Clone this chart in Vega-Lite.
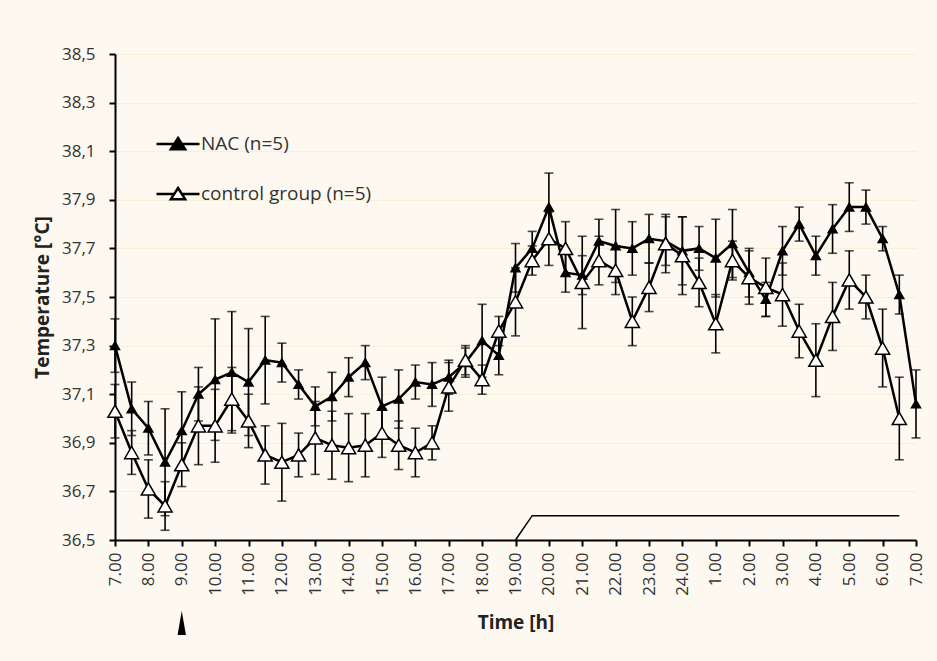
{
  "$schema": "https://vega.github.io/schema/vega-lite/v6.json",
  "width": 801,
  "height": 486,
  "autosize": {"type": "none"},
  "padding": {"left": 115, "top": 54, "right": 21, "bottom": 121},
  "background": "#fdf9f1",
  "config": {
    "view": {"stroke": null},
    "font": "Open Sans",
    "axis": {
      "domainColor": "black", "domainWidth": 2,
      "tickColor": "black", "tickWidth": 2, "tickSize": 6,
      "labelFont": "Open Sans", "labelFontSize": 17, "labelColor": "#333333",
      "labelBound": false, "labelFlush": false, "labelOverlap": false,
      "titleFont": "Open Sans", "titleFontSize": 19, "titleFontWeight": "bold", "titleColor": "#222222"
    },
    "axisX": {"labelOverlap": false, "labelAngle": 270, "labelPadding": 6, "titlePadding": 18, "grid": false},
    "axisY": {"labelPadding": 14, "grid": true, "gridColor": "#f7f0d6", "gridWidth": 1, "titlePadding": 9}
  },
  "datasets": {
    "temps": [
      {"group":"NAC (n=5)","t":0,"temp":37.30,"err":0.11},
      {"group":"NAC (n=5)","t":0.5,"temp":37.04,"err":0.11},
      {"group":"NAC (n=5)","t":1,"temp":36.96,"err":0.11},
      {"group":"NAC (n=5)","t":1.5,"temp":36.82,"err":0.22},
      {"group":"NAC (n=5)","t":2,"temp":36.95,"err":0.16},
      {"group":"NAC (n=5)","t":2.5,"temp":37.10,"err":0.11},
      {"group":"NAC (n=5)","t":3,"temp":37.16,"err":0.25},
      {"group":"NAC (n=5)","t":3.5,"temp":37.19,"err":0.25},
      {"group":"NAC (n=5)","t":4,"temp":37.15,"err":0.22},
      {"group":"NAC (n=5)","t":4.5,"temp":37.24,"err":0.18},
      {"group":"NAC (n=5)","t":5,"temp":37.23,"err":0.08},
      {"group":"NAC (n=5)","t":5.5,"temp":37.14,"err":0.06},
      {"group":"NAC (n=5)","t":6,"temp":37.05,"err":0.08},
      {"group":"NAC (n=5)","t":6.5,"temp":37.09,"err":0.10},
      {"group":"NAC (n=5)","t":7,"temp":37.17,"err":0.08},
      {"group":"NAC (n=5)","t":7.5,"temp":37.23,"err":0.07},
      {"group":"NAC (n=5)","t":8,"temp":37.05,"err":0.12},
      {"group":"NAC (n=5)","t":8.5,"temp":37.08,"err":0.12},
      {"group":"NAC (n=5)","t":9,"temp":37.15,"err":0.07},
      {"group":"NAC (n=5)","t":9.5,"temp":37.14,"err":0.09},
      {"group":"NAC (n=5)","t":10,"temp":37.17,"err":0.07},
      {"group":"NAC (n=5)","t":10.5,"temp":37.23,"err":0.06},
      {"group":"NAC (n=5)","t":11,"temp":37.32,"err":0.15},
      {"group":"NAC (n=5)","t":11.5,"temp":37.26,"err":0.08},
      {"group":"NAC (n=5)","t":12,"temp":37.62,"err":0.10},
      {"group":"NAC (n=5)","t":12.5,"temp":37.70,"err":0.07},
      {"group":"NAC (n=5)","t":13,"temp":37.87,"err":0.14},
      {"group":"NAC (n=5)","t":13.5,"temp":37.60,"err":0.08},
      {"group":"NAC (n=5)","t":14,"temp":37.59,"err":0.08},
      {"group":"NAC (n=5)","t":14.5,"temp":37.73,"err":0.09},
      {"group":"NAC (n=5)","t":15,"temp":37.71,"err":0.15},
      {"group":"NAC (n=5)","t":15.5,"temp":37.70,"err":0.11},
      {"group":"NAC (n=5)","t":16,"temp":37.74,"err":0.10},
      {"group":"NAC (n=5)","t":16.5,"temp":37.73,"err":0.10},
      {"group":"NAC (n=5)","t":17,"temp":37.69,"err":0.14},
      {"group":"NAC (n=5)","t":17.5,"temp":37.70,"err":0.09},
      {"group":"NAC (n=5)","t":18,"temp":37.66,"err":0.16},
      {"group":"NAC (n=5)","t":18.5,"temp":37.72,"err":0.14},
      {"group":"NAC (n=5)","t":19,"temp":37.60,"err":0.10},
      {"group":"NAC (n=5)","t":19.5,"temp":37.49,"err":0.07},
      {"group":"NAC (n=5)","t":20,"temp":37.69,"err":0.10},
      {"group":"NAC (n=5)","t":20.5,"temp":37.80,"err":0.07},
      {"group":"NAC (n=5)","t":21,"temp":37.67,"err":0.08},
      {"group":"NAC (n=5)","t":21.5,"temp":37.78,"err":0.10},
      {"group":"NAC (n=5)","t":22,"temp":37.87,"err":0.10},
      {"group":"NAC (n=5)","t":22.5,"temp":37.87,"err":0.07},
      {"group":"NAC (n=5)","t":23,"temp":37.74,"err":0.05},
      {"group":"NAC (n=5)","t":23.5,"temp":37.51,"err":0.08},
      {"group":"NAC (n=5)","t":24,"temp":37.06,"err":0.14},
      {"group":"control group (n=5)","t":0,"temp":37.03,"err":0.11},
      {"group":"control group (n=5)","t":0.5,"temp":36.86,"err":0.09},
      {"group":"control group (n=5)","t":1,"temp":36.71,"err":0.12},
      {"group":"control group (n=5)","t":1.5,"temp":36.64,"err":0.10},
      {"group":"control group (n=5)","t":2,"temp":36.81,"err":0.09},
      {"group":"control group (n=5)","t":2.5,"temp":36.97,"err":0.16},
      {"group":"control group (n=5)","t":3,"temp":36.97,"err":0.15},
      {"group":"control group (n=5)","t":3.5,"temp":37.08,"err":0.13},
      {"group":"control group (n=5)","t":4,"temp":36.99,"err":0.11},
      {"group":"control group (n=5)","t":4.5,"temp":36.85,"err":0.12},
      {"group":"control group (n=5)","t":5,"temp":36.82,"err":0.16},
      {"group":"control group (n=5)","t":5.5,"temp":36.85,"err":0.09},
      {"group":"control group (n=5)","t":6,"temp":36.92,"err":0.15},
      {"group":"control group (n=5)","t":6.5,"temp":36.89,"err":0.14},
      {"group":"control group (n=5)","t":7,"temp":36.88,"err":0.14},
      {"group":"control group (n=5)","t":7.5,"temp":36.89,"err":0.13},
      {"group":"control group (n=5)","t":8,"temp":36.94,"err":0.10},
      {"group":"control group (n=5)","t":8.5,"temp":36.89,"err":0.10},
      {"group":"control group (n=5)","t":9,"temp":36.86,"err":0.10},
      {"group":"control group (n=5)","t":9.5,"temp":36.90,"err":0.07},
      {"group":"control group (n=5)","t":10,"temp":37.13,"err":0.10},
      {"group":"control group (n=5)","t":10.5,"temp":37.24,"err":0.06},
      {"group":"control group (n=5)","t":11,"temp":37.16,"err":0.06},
      {"group":"control group (n=5)","t":11.5,"temp":37.36,"err":0.06},
      {"group":"control group (n=5)","t":12,"temp":37.48,"err":0.14},
      {"group":"control group (n=5)","t":12.5,"temp":37.65,"err":0.06},
      {"group":"control group (n=5)","t":13,"temp":37.74,"err":0.11},
      {"group":"control group (n=5)","t":13.5,"temp":37.70,"err":0.11},
      {"group":"control group (n=5)","t":14,"temp":37.56,"err":0.19},
      {"group":"control group (n=5)","t":14.5,"temp":37.65,"err":0.10},
      {"group":"control group (n=5)","t":15,"temp":37.61,"err":0.10},
      {"group":"control group (n=5)","t":15.5,"temp":37.40,"err":0.10},
      {"group":"control group (n=5)","t":16,"temp":37.54,"err":0.10},
      {"group":"control group (n=5)","t":16.5,"temp":37.72,"err":0.12},
      {"group":"control group (n=5)","t":17,"temp":37.67,"err":0.16},
      {"group":"control group (n=5)","t":17.5,"temp":37.56,"err":0.10},
      {"group":"control group (n=5)","t":18,"temp":37.39,"err":0.12},
      {"group":"control group (n=5)","t":18.5,"temp":37.65,"err":0.08},
      {"group":"control group (n=5)","t":19,"temp":37.58,"err":0.11},
      {"group":"control group (n=5)","t":19.5,"temp":37.54,"err":0.12},
      {"group":"control group (n=5)","t":20,"temp":37.51,"err":0.13},
      {"group":"control group (n=5)","t":20.5,"temp":37.36,"err":0.11},
      {"group":"control group (n=5)","t":21,"temp":37.24,"err":0.15},
      {"group":"control group (n=5)","t":21.5,"temp":37.42,"err":0.14},
      {"group":"control group (n=5)","t":22,"temp":37.57,"err":0.12},
      {"group":"control group (n=5)","t":22.5,"temp":37.50,"err":0.09},
      {"group":"control group (n=5)","t":23,"temp":37.29,"err":0.16},
      {"group":"control group (n=5)","t":23.5,"temp":37.00,"err":0.17}
    ],
    "dark": [
      {"t":12,"temp":36.5},
      {"t":12.5,"temp":36.6},
      {"t":23.5,"temp":36.6}
    ],
    "marker": [
      {"t":2,"event":"NAC"}
    ]
  },
  "layer": [
    {
      "data": {"name": "temps"},
      "mark": {"type": "line", "color": "black", "strokeWidth": 2.5},
      "encoding": {
        "x": {"field": "t", "type": "quantitative", "title": "Time [h]",
          "scale": {"domain": [0, 24], "nice": false, "zero": false},
          "axis": {"values": [0,1,2,3,4,5,6,7,8,9,10,11,12,13,14,15,16,17,18,19,20,21,22,23,24], "tickCount": 40, "labelOverlap": false,
            "labelExpr": "format(((datum.value + 6) % 24) + 1, '.2f')"}},
        "y": {"field": "temp", "type": "quantitative", "title": "Temperature [°C]",
          "scale": {"domain": [36.5, 38.5], "nice": false, "zero": false},
          "axis": {"values": [36.5,36.7,36.9,37.1,37.3,37.5,37.7,37.9,38.1,38.3,38.5], "tickCount": 20,
            "labelExpr": "replace(format(datum.value, '.1f'), '.', ',')"}},
        "detail": {"field": "group", "type": "nominal"}
      }
    },
    {
      "data": {"name": "temps"},
      "mark": {"type": "errorbar", "color": "black", "ticks": {"size": 9, "thickness": 1.6, "color": "black"}, "rule": {"strokeWidth": 1.6, "color": "black"}},
      "encoding": {
        "x": {"field": "t", "type": "quantitative", "title": "Time [h]",
          "axis": {"values": [0,1,2,3,4,5,6,7,8,9,10,11,12,13,14,15,16,17,18,19,20,21,22,23,24], "tickCount": 40, "labelOverlap": false,
            "labelExpr": "format(((datum.value + 6) % 24) + 1, '.2f')"}},
        "y": {"field": "temp", "type": "quantitative", "title": "Temperature [°C]",
          "axis": {"values": [36.5,36.7,36.9,37.1,37.3,37.5,37.7,37.9,38.1,38.3,38.5], "tickCount": 20,
            "labelExpr": "replace(format(datum.value, '.1f'), '.', ',')"}},
        "yError": {"field": "err"},
        "detail": {"field": "group", "type": "nominal"}
      }
    },
    {
      "data": {"name": "temps"},
      "transform": [{"filter": "datum.group === 'NAC (n=5)'"}],
      "mark": {"type": "point", "shape": "triangle-up", "filled": true, "stroke": "black", "strokeWidth": 1.5, "opacity": 1, "size": 80},
      "encoding": {
        "x": {"field": "t", "type": "quantitative", "title": "Time [h]",
          "axis": {"values": [0,1,2,3,4,5,6,7,8,9,10,11,12,13,14,15,16,17,18,19,20,21,22,23,24], "tickCount": 40, "labelOverlap": false,
            "labelExpr": "format(((datum.value + 6) % 24) + 1, '.2f')"}},
        "y": {"field": "temp", "type": "quantitative", "title": "Temperature [°C]",
          "axis": {"values": [36.5,36.7,36.9,37.1,37.3,37.5,37.7,37.9,38.1,38.3,38.5], "tickCount": 20,
            "labelExpr": "replace(format(datum.value, '.1f'), '.', ',')"}},
        "fill": {"field": "group", "type": "nominal",
          "scale": {"domain": ["NAC (n=5)", "control group (n=5)"], "range": ["black", "white"]},
          "legend": {"orient": "none", "legendX": 40, "legendY": 67, "title": null, "padding": 0,
            "symbolType": "M-1,0L-0.2,0M0.2,0L1,0M0,-0.28L0.33,0.24L-0.33,0.24Z",
            "symbolSize": 1849, "symbolStrokeColor": "black", "symbolStrokeWidth": 2.5,
            "labelFont": "Open Sans", "labelFontSize": 19, "labelColor": "#333333", "labelOffset": 0, "labelLimit": 400, "rowPadding": 16}}
      }
    },
    {
      "data": {"name": "temps"},
      "transform": [{"filter": "datum.group === 'control group (n=5)'"}],
      "mark": {"type": "point", "shape": "triangle-up", "filled": true, "stroke": "black", "strokeWidth": 1.5, "opacity": 1, "size": 200},
      "encoding": {
        "x": {"field": "t", "type": "quantitative", "title": "Time [h]",
          "axis": {"values": [0,1,2,3,4,5,6,7,8,9,10,11,12,13,14,15,16,17,18,19,20,21,22,23,24], "tickCount": 40, "labelOverlap": false,
            "labelExpr": "format(((datum.value + 6) % 24) + 1, '.2f')"}},
        "y": {"field": "temp", "type": "quantitative", "title": "Temperature [°C]",
          "axis": {"values": [36.5,36.7,36.9,37.1,37.3,37.5,37.7,37.9,38.1,38.3,38.5], "tickCount": 20,
            "labelExpr": "replace(format(datum.value, '.1f'), '.', ',')"}},
        "fill": {"field": "group", "type": "nominal",
          "scale": {"domain": ["NAC (n=5)", "control group (n=5)"], "range": ["black", "white"]},
          "legend": {"orient": "none", "legendX": 40, "legendY": 67, "title": null, "padding": 0,
            "symbolType": "M-1,0L-0.2,0M0.2,0L1,0M0,-0.28L0.33,0.24L-0.33,0.24Z",
            "symbolSize": 1849, "symbolStrokeColor": "black", "symbolStrokeWidth": 2.5,
            "labelFont": "Open Sans", "labelFontSize": 19, "labelColor": "#333333", "labelOffset": 0, "labelLimit": 400, "rowPadding": 16}}
      }
    },
    {
      "data": {"name": "dark"},
      "mark": {"type": "line", "color": "black", "strokeWidth": 1.5},
      "encoding": {
        "x": {"field": "t", "type": "quantitative", "title": "Time [h]",
          "axis": {"values": [0,1,2,3,4,5,6,7,8,9,10,11,12,13,14,15,16,17,18,19,20,21,22,23,24], "tickCount": 40, "labelOverlap": false,
            "labelExpr": "format(((datum.value + 6) % 24) + 1, '.2f')"}},
        "y": {"field": "temp", "type": "quantitative", "title": "Temperature [°C]",
          "axis": {"values": [36.5,36.7,36.9,37.1,37.3,37.5,37.7,37.9,38.1,38.3,38.5], "tickCount": 20,
            "labelExpr": "replace(format(datum.value, '.1f'), '.', ',')"}}
      }
    },
    {
      "data": {"name": "marker"},
      "mark": {"type": "point", "shape": "M0,-1L0.35,1L-0.35,1Z", "filled": true, "color": "black", "opacity": 1, "size": 576, "yOffset": 83},
      "encoding": {
        "x": {"field": "t", "type": "quantitative", "title": "Time [h]",
          "axis": {"values": [0,1,2,3,4,5,6,7,8,9,10,11,12,13,14,15,16,17,18,19,20,21,22,23,24], "tickCount": 40, "labelOverlap": false,
            "labelExpr": "format(((datum.value + 6) % 24) + 1, '.2f')"}},
        "y": {"datum": 36.5, "type": "quantitative", "title": "Temperature [°C]",
          "axis": {"values": [36.5,36.7,36.9,37.1,37.3,37.5,37.7,37.9,38.1,38.3,38.5], "tickCount": 20,
            "labelExpr": "replace(format(datum.value, '.1f'), '.', ',')"}}
      }
    }
  ]
}
